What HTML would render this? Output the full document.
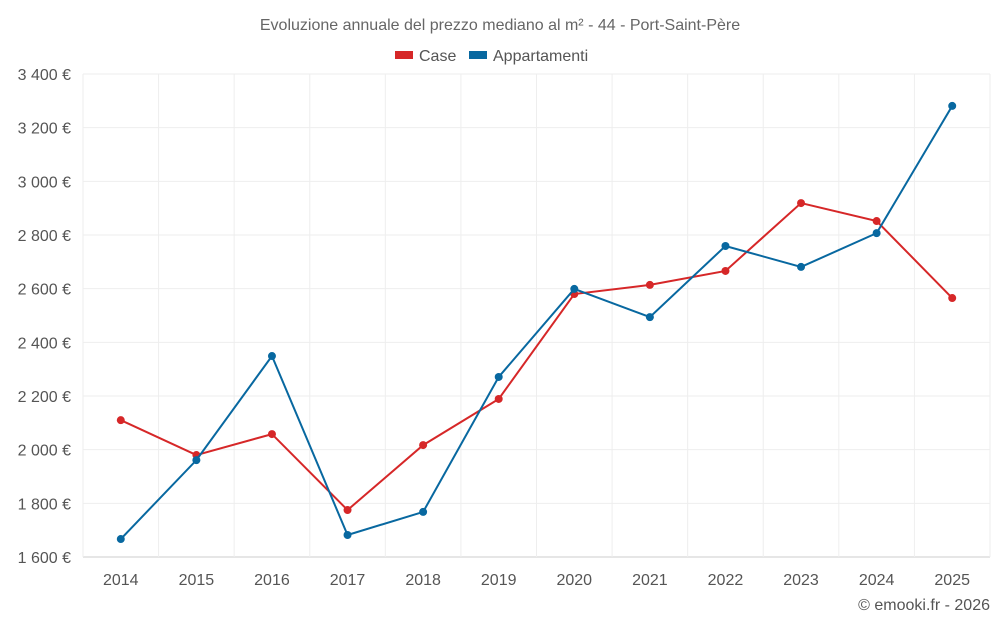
<!DOCTYPE html>
<html><head><meta charset="utf-8"><style>
body{margin:0;background:#fff;font-family:"Liberation Sans",sans-serif;}
svg text{font-family:"Liberation Sans",sans-serif;}
</style></head><body>
<svg id="chart" width="1000" height="625" xmlns="http://www.w3.org/2000/svg">
<text x="500" y="30" text-anchor="middle" font-size="16" fill="#666">Evoluzione annuale del prezzo mediano al m² - 44 - Port-Saint-Père</text>
<g>
<g><rect x="395" y="51" width="18" height="8" fill="#d62728"/><text x="419" y="61" font-size="16" fill="#555">Case</text></g>
<g><rect x="469" y="51" width="18" height="8" fill="#0868a0"/><text x="493" y="61" font-size="16" fill="#555">Appartamenti</text></g>
</g>
<g id="grid"></g>
<g id="axes"></g>
<g id="series"></g>
<text x="990" y="610" text-anchor="end" font-size="16" fill="#555">© emooki.fr - 2026</text>
</svg>
<script>
const years=[2014,2015,2016,2017,2018,2019,2020,2021,2022,2023,2024,2025];
const caseValues=[2110,1980,2058,1775,2017,2189,2580,2614,2666,2919,2852,2565];
const appValues=[1667,1961,2349,1682,1768,2271,2599,2494,2759,2681,2807,3281];
const yTicks=[1600,1800,2000,2200,2400,2600,2800,3000,3200,3400];
const NS='http://www.w3.org/2000/svg';
const L=83,R=990,T=74,B=557,yMin=1600,yMax=3400;
const step=(R-L)/years.length;
const x=i=>L+step*(i+0.5);
const y=v=>B-(v-yMin)/(yMax-yMin)*(B-T);
function mk(tag,attrs,parent){const e=document.createElementNS(NS,tag);for(const k in attrs)e.setAttribute(k,attrs[k]);parent.appendChild(e);return e;}
const grid=document.getElementById('grid'),axes=document.getElementById('axes'),series=document.getElementById('series');
yTicks.forEach(t=>{
  const l=mk('line',{x1:L,x2:R,y1:y(t),y2:y(t),stroke:t===yMin?'#ccc':'#eee'},grid);
  
  
  const tx=mk('text',{x:71,y:y(t)+6,'text-anchor':'end','font-size':16,fill:'#555'},axes);
  tx.textContent=t.toLocaleString('fr-FR').replace(/\s/g,' ')+' €';
  
  
});
for(let i=0;i<=years.length;i++){
  const l=mk('line',{x1:L+step*i,x2:L+step*i,y1:T,y2:B,stroke:'#eee'},grid);
  
  
}
years.forEach((yr,i)=>{
  const tx=mk('text',{x:x(i),y:585,'text-anchor':'middle','font-size':16,fill:'#555'},axes);
  tx.textContent=yr;
  
  
});
function draw(vals,color,name){
  const p=mk('polyline',{points:vals.map((v,i)=>x(i)+','+y(v)).join(' '),fill:'none',stroke:color,'stroke-width':2},series);
  
  
  vals.forEach((v,i)=>{
    const c=mk('circle',{cx:x(i),cy:y(v),r:4,fill:color},series);
    
    
  });
}
draw(caseValues,'#d62728','case');
draw(appValues,'#0868a0','appartamenti');
</script>
</body></html>
